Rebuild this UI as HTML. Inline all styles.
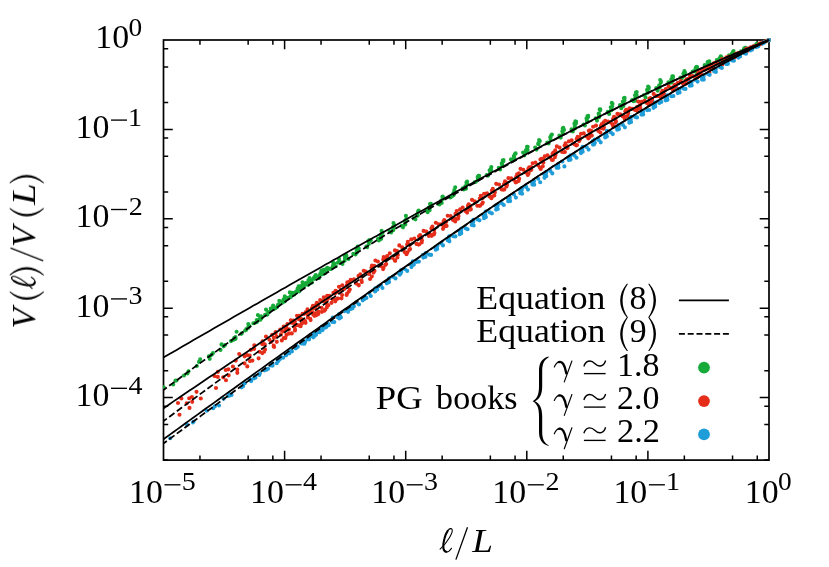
<!DOCTYPE html>
<html><head><meta charset="utf-8"><title>V(l)/V(L) vs l/L</title>
<style>
html,body{margin:0;padding:0;background:#fff;}
svg{display:block;font-family:"Liberation Serif",serif;}
</style></head><body>
<svg width="829" height="567" viewBox="0 0 829 567">
<rect width="829" height="567" fill="#fff"/>
<defs><clipPath id="c"><rect x="163.10" y="37.00" width="608.90" height="423.10"/></clipPath></defs>
<rect x="163.50" y="40.00" width="605.50" height="420.10" fill="none" stroke="#000" stroke-width="1.7"/>
<path d="M199.95 460.10L199.95 455.40M199.95 40.00L199.95 44.70M248.15 460.10L248.15 455.40M248.15 40.00L248.15 44.70M272.86 460.10L272.86 455.40M272.86 40.00L272.86 44.70M284.60 460.10L284.60 450.80M284.60 40.00L284.60 49.30M321.05 460.10L321.05 455.40M321.05 40.00L321.05 44.70M369.25 460.10L369.25 455.40M369.25 40.00L369.25 44.70M393.96 460.10L393.96 455.40M393.96 40.00L393.96 44.70M405.70 460.10L405.70 450.80M405.70 40.00L405.70 49.30M442.15 460.10L442.15 455.40M442.15 40.00L442.15 44.70M490.35 460.10L490.35 455.40M490.35 40.00L490.35 44.70M515.06 460.10L515.06 455.40M515.06 40.00L515.06 44.70M526.80 460.10L526.80 450.80M526.80 40.00L526.80 49.30M563.25 460.10L563.25 455.40M563.25 40.00L563.25 44.70M611.45 460.10L611.45 455.40M611.45 40.00L611.45 44.70M636.16 460.10L636.16 455.40M636.16 40.00L636.16 44.70M647.90 460.10L647.90 450.80M647.90 40.00L647.90 49.30M684.35 460.10L684.35 455.40M684.35 40.00L684.35 44.70M732.55 460.10L732.55 455.40M732.55 40.00L732.55 44.70M757.26 460.10L757.26 455.40M757.26 40.00L757.26 44.70M163.50 460.10L168.20 460.10M769.00 460.10L764.30 460.10M163.50 424.52L168.20 424.52M769.00 424.52L764.30 424.52M163.50 406.27L168.20 406.27M769.00 406.27L764.30 406.27M163.50 397.61L172.80 397.61M769.00 397.61L759.70 397.61M163.50 370.70L168.20 370.70M769.00 370.70L764.30 370.70M163.50 335.12L168.20 335.12M769.00 335.12L764.30 335.12M163.50 316.87L168.20 316.87M769.00 316.87L764.30 316.87M163.50 308.21L172.80 308.21M769.00 308.21L759.70 308.21M163.50 281.29L168.20 281.29M769.00 281.29L764.30 281.29M163.50 245.72L168.20 245.72M769.00 245.72L764.30 245.72M163.50 227.47L168.20 227.47M769.00 227.47L764.30 227.47M163.50 218.81L172.80 218.81M769.00 218.81L759.70 218.81M163.50 191.89L168.20 191.89M769.00 191.89L764.30 191.89M163.50 156.32L168.20 156.32M769.00 156.32L764.30 156.32M163.50 138.07L168.20 138.07M769.00 138.07L764.30 138.07M163.50 129.40L172.80 129.40M769.00 129.40L759.70 129.40M163.50 102.49L168.20 102.49M769.00 102.49L764.30 102.49M163.50 66.91L168.20 66.91M769.00 66.91L764.30 66.91M163.50 48.66L168.20 48.66M769.00 48.66L764.30 48.66" stroke="#000" stroke-width="1.5" fill="none"/>
<g clip-path="url(#c)" fill="none" stroke-linecap="round" stroke-width="4.15">
<path stroke="#16ab39" d="M175.5 380.6h0M196.8 366.0h0M211.9 354.4h0M223.6 346.3h0M233.2 340.0h0M241.3 333.8h0M248.4 327.4h0M254.6 323.0h0M260.1 318.2h0M265.1 314.9h0M273.9 308.9h0M277.8 305.6h0M284.8 301.3h0M291.0 295.8h0M296.6 291.4h0M301.6 288.2h0M308.3 283.4h0M314.3 278.8h0M321.3 274.4h0M326.0 271.4h0M333.0 265.5h0M344.7 260.7h0M356.9 252.6h0M368.8 243.9h0M381.2 238.8h0M393.4 230.1h0M405.3 224.4h0M417.7 215.6h0M429.6 210.2h0M441.7 203.0h0M453.8 193.8h0M466.0 188.7h0M478.1 179.3h0M490.2 172.5h0M502.3 165.9h0M514.4 159.6h0M526.5 151.6h0M538.6 144.3h0M550.7 139.9h0M562.8 133.3h0M575.0 128.5h0M587.1 122.0h0M599.2 117.1h0M611.3 110.2h0M623.4 105.9h0M635.5 100.6h0M647.6 91.7h0M659.7 87.5h0M671.8 82.3h0M684.0 76.1h0M696.1 71.8h0M708.2 64.5h0M720.3 59.7h0M732.4 54.7h0M744.5 49.3h0M756.6 44.8h0M768.7 40.1h0M769.0 40.0h0M187.5 373.4h0M208.8 356.4h0M223.9 345.9h0M235.6 338.8h0M245.2 330.5h0M253.3 323.2h0M260.4 319.7h0M266.6 314.3h0M272.1 309.2h0M277.1 306.9h0M285.9 297.5h0M289.8 297.3h0M296.8 291.5h0M303.0 287.9h0M308.6 282.3h0M313.6 278.2h0M320.3 275.0h0M326.3 270.7h0M333.3 266.4h0M338.0 262.6h0M345.0 258.5h0M356.7 251.3h0M368.9 242.5h0M380.8 236.3h0M393.2 229.4h0M405.4 222.5h0M417.3 215.2h0M429.7 208.7h0M441.6 200.2h0M453.7 192.8h0M465.8 187.0h0M478.0 179.2h0M490.1 170.1h0M502.2 164.8h0M514.3 157.7h0M526.4 150.1h0M538.5 144.2h0M550.6 139.8h0M562.7 133.1h0M574.8 126.7h0M587.0 120.5h0M599.1 115.5h0M611.2 109.1h0M623.3 102.8h0M635.4 97.8h0M647.5 92.7h0M659.6 85.6h0M671.7 79.4h0M683.8 75.1h0M696.0 69.0h0M708.1 63.6h0M720.2 59.1h0M732.3 53.6h0M744.4 49.3h0M756.5 44.8h0M768.6 40.1h0M769.0 40.0h0M163.7 387.2h0M200.2 359.2h0M221.5 344.4h0M236.6 331.7h0M248.3 324.1h0M257.9 315.1h0M266.0 309.6h0M273.1 305.6h0M279.3 300.7h0M284.8 296.3h0M289.8 292.4h0M298.6 286.2h0M302.5 282.3h0M309.5 278.0h0M315.7 275.1h0M321.3 270.7h0M326.3 268.7h0M333.0 262.3h0M339.0 258.9h0M346.0 254.9h0M357.7 246.6h0M369.4 240.0h0M381.6 230.9h0M393.5 223.0h0M405.9 215.8h0M418.1 211.4h0M430.0 204.0h0M442.4 196.7h0M454.3 190.1h0M466.4 182.5h0M478.5 175.8h0M490.7 169.2h0M502.8 160.3h0M514.9 154.1h0M527.0 146.8h0M539.1 140.0h0M551.2 135.2h0M563.3 127.9h0M575.4 121.2h0M587.5 116.1h0M599.7 109.4h0M611.8 102.9h0M623.9 98.0h0M636.0 92.2h0M648.1 86.6h0M660.2 80.1h0M672.3 76.3h0M684.4 71.0h0M696.5 66.9h0M708.7 61.6h0M720.8 56.3h0M732.9 52.0h0M745.0 47.8h0M757.1 43.5h0M769.0 40.0h0M173.2 384.5h0M209.7 358.8h0M231.0 341.1h0M246.1 329.9h0M257.8 320.4h0M267.4 314.6h0M275.5 308.2h0M282.6 302.6h0M288.8 297.6h0M294.3 294.5h0M299.3 291.3h0M308.1 284.8h0M312.0 282.5h0M319.0 278.1h0M325.2 273.1h0M330.8 269.0h0M335.8 266.2h0M342.5 264.0h0M348.5 259.0h0M355.5 254.5h0M367.2 247.2h0M378.9 240.4h0M391.1 232.5h0M403.0 227.3h0M415.4 219.3h0M427.6 212.2h0M439.5 204.4h0M451.9 196.5h0M463.8 189.4h0M475.9 181.7h0M488.0 175.6h0M500.2 169.5h0M512.3 160.9h0M524.4 155.3h0M536.5 149.6h0M548.6 143.5h0M560.7 137.6h0M572.8 131.4h0M584.9 125.5h0M597.0 120.6h0M609.2 113.9h0M621.3 108.2h0M633.4 101.2h0M645.5 97.4h0M657.6 90.6h0M669.7 82.9h0M681.8 78.2h0M693.9 71.3h0M706.0 67.7h0M718.2 61.1h0M730.3 57.0h0M742.4 51.9h0M754.5 46.2h0M766.6 41.0h0M769.0 40.0h0M176.5 380.5h0M213.0 353.1h0M234.3 337.7h0M249.4 326.0h0M261.1 316.3h0M270.7 308.5h0M278.8 304.2h0M285.9 297.6h0M292.1 292.8h0M297.6 288.6h0M302.6 284.7h0M311.4 280.3h0M315.3 277.1h0M322.3 274.2h0M328.5 268.6h0M334.1 265.1h0M339.1 260.7h0M345.8 255.6h0M358.8 248.6h0M370.5 240.1h0M382.2 233.2h0M394.4 225.5h0M406.3 219.0h0M418.7 210.6h0M430.9 203.9h0M442.8 196.6h0M455.2 187.3h0M467.1 181.5h0M479.2 175.8h0M491.3 167.1h0M503.5 160.0h0M515.6 153.4h0M527.7 146.8h0M539.8 141.1h0M551.9 134.6h0M564.0 130.0h0M576.1 121.5h0M588.2 115.8h0M600.3 109.3h0M612.5 103.7h0M624.6 97.9h0M636.7 92.0h0M648.8 87.4h0M660.9 81.2h0M673.0 76.3h0M685.1 72.6h0M697.2 67.1h0M709.3 61.3h0M721.5 57.4h0M733.6 52.8h0M745.7 47.8h0M757.8 43.7h0M769.0 40.0h0M184.0 375.5h0M220.5 349.9h0M241.8 333.3h0M256.9 322.1h0M268.6 312.1h0M278.2 304.6h0M286.3 298.5h0M293.4 293.1h0M299.6 290.0h0M305.1 284.8h0M310.1 283.2h0M318.9 276.3h0M322.8 272.6h0M329.8 268.8h0M341.6 262.6h0M353.3 253.8h0M366.3 246.5h0M378.0 238.9h0M389.7 231.2h0M401.9 225.9h0M413.8 218.4h0M426.2 210.0h0M438.4 204.0h0M450.3 197.4h0M462.7 188.4h0M474.6 182.2h0M486.7 175.1h0M498.8 167.7h0M511.0 159.4h0M523.1 152.5h0M535.2 147.6h0M547.3 142.6h0M559.4 135.6h0M571.5 129.3h0M583.6 124.5h0M595.7 118.3h0M607.8 111.7h0M620.0 105.0h0M632.1 100.1h0M644.2 95.0h0M656.3 88.1h0M668.4 82.2h0M680.5 77.5h0M692.6 71.5h0M704.7 65.2h0M716.8 60.1h0M729.0 55.4h0M741.1 51.3h0M753.2 46.5h0M765.3 41.5h0M769.0 40.0h0M188.5 371.2h0M225.0 345.0h0M246.3 329.1h0M261.4 318.3h0M273.1 308.2h0M282.7 301.2h0M290.8 297.0h0M297.9 289.6h0M304.1 285.9h0M309.6 279.5h0M314.6 277.6h0M323.4 269.9h0M327.3 267.7h0M334.3 263.6h0M346.1 256.1h0M357.8 248.2h0M370.8 240.3h0M382.5 232.7h0M394.2 225.0h0M406.4 219.4h0M418.3 211.3h0M430.7 206.2h0M442.9 198.8h0M454.8 191.4h0M467.2 183.9h0M479.1 176.2h0M491.2 170.2h0M503.3 161.3h0M515.5 153.8h0M527.6 149.9h0M539.7 140.7h0M551.8 134.8h0M563.9 129.5h0M576.0 123.3h0M588.1 117.1h0M600.2 110.3h0M612.3 106.2h0M624.5 100.2h0M636.6 95.1h0M648.7 88.7h0M660.8 82.6h0M672.9 77.7h0M685.0 72.6h0M697.1 67.3h0M709.2 62.3h0M721.3 57.5h0M733.5 51.0h0M745.6 48.6h0M757.7 43.8h0M769.0 40.0h0M199.0 361.9h0M235.5 337.0h0M256.8 320.0h0M271.9 308.2h0M283.6 299.4h0M293.2 293.4h0M301.3 285.9h0M308.4 280.3h0M314.6 276.8h0M320.1 274.1h0M325.1 270.4h0M333.9 263.6h0M344.8 256.3h0M356.6 249.2h0M368.3 241.0h0M381.3 234.8h0M393.0 227.1h0M404.7 221.0h0M416.9 214.7h0M428.8 207.5h0M441.2 200.5h0M453.4 193.2h0M465.3 186.2h0M477.7 176.9h0M489.6 170.2h0M501.7 163.3h0M513.8 156.0h0M526.0 150.1h0M538.1 144.0h0M550.2 137.3h0M562.3 131.3h0M574.4 123.5h0M586.5 118.4h0M598.6 113.6h0M610.7 107.2h0M622.8 101.5h0M635.0 95.2h0M647.1 89.9h0M659.2 85.4h0M671.3 79.3h0M683.4 73.9h0M695.5 69.0h0M707.6 62.0h0M719.7 58.0h0M731.8 53.7h0M744.0 48.8h0M756.1 44.6h0M768.2 40.3h0M769.0 40.0h0M211.5 354.9h0M248.0 327.9h0M269.3 311.9h0M284.4 300.7h0M296.1 291.6h0M305.7 283.0h0M313.8 278.0h0M320.9 273.0h0M327.1 269.1h0M332.6 267.1h0M346.4 255.9h0M357.3 248.4h0M369.1 240.9h0M380.8 234.8h0M393.8 227.4h0M405.5 221.0h0M417.2 214.4h0M429.4 208.7h0M441.3 200.6h0M453.7 195.1h0M465.9 185.8h0M477.8 177.7h0M490.2 170.4h0M502.1 164.3h0M514.2 157.5h0M526.3 150.6h0M538.5 143.0h0M550.6 137.1h0M562.7 128.4h0M574.8 125.4h0M586.9 120.0h0M599.0 113.9h0M611.1 109.8h0M623.2 102.4h0M635.3 97.7h0M647.5 90.1h0M659.6 85.9h0M671.7 80.4h0M683.8 73.4h0M695.9 67.6h0M708.0 63.4h0M720.1 58.1h0M732.2 54.5h0M744.3 48.5h0M756.5 44.4h0M768.6 40.2h0M769.0 40.0h0"/>
<path stroke="#e52d1a" d="M178.0 403.0h0M214.5 376.0h0M235.8 360.6h0M250.9 349.8h0M262.6 341.4h0M272.2 334.7h0M280.3 329.5h0M287.4 324.0h0M293.6 320.5h0M299.1 315.7h0M304.1 313.8h0M312.9 305.9h0M316.8 302.8h0M323.8 297.2h0M335.6 290.7h0M347.3 282.4h0M360.3 274.2h0M372.0 265.5h0M383.7 257.1h0M395.9 250.8h0M407.8 241.7h0M420.2 235.1h0M432.4 226.5h0M444.3 220.1h0M456.7 211.0h0M468.6 204.4h0M480.7 195.7h0M492.8 188.8h0M505.0 181.4h0M517.1 174.4h0M529.2 167.3h0M541.3 158.7h0M553.4 152.5h0M565.5 143.3h0M577.6 136.9h0M589.7 130.3h0M601.8 124.0h0M614.0 116.8h0M626.1 109.7h0M638.2 101.5h0M650.3 98.1h0M662.4 90.7h0M674.5 85.1h0M686.6 79.4h0M698.7 72.1h0M710.8 65.2h0M723.0 60.6h0M735.1 54.2h0M747.2 49.5h0M759.3 43.9h0M769.0 40.0h0M179.5 414.7h0M216.0 388.0h0M237.3 372.8h0M252.4 360.6h0M264.1 351.7h0M273.7 345.6h0M281.8 340.4h0M288.9 333.6h0M295.1 329.6h0M300.6 326.2h0M305.6 322.8h0M314.4 315.8h0M318.3 314.1h0M325.3 309.5h0M331.5 302.8h0M337.1 298.9h0M342.1 295.0h0M348.8 291.6h0M361.8 282.1h0M373.5 272.6h0M385.2 264.9h0M397.4 257.4h0M409.3 249.8h0M421.7 242.4h0M433.9 234.5h0M445.8 225.5h0M458.2 218.6h0M470.1 209.7h0M482.2 203.7h0M494.3 195.5h0M506.5 186.5h0M518.6 181.0h0M530.7 170.2h0M542.8 166.3h0M554.9 157.2h0M567.0 148.1h0M579.1 141.1h0M591.2 135.4h0M603.3 128.7h0M615.5 122.6h0M627.6 116.1h0M639.7 107.8h0M651.8 103.5h0M663.9 94.7h0M676.0 87.4h0M688.1 81.1h0M700.2 74.6h0M712.3 67.7h0M724.5 61.5h0M736.6 56.2h0M748.7 50.2h0M760.8 43.6h0M769.0 40.0h0M181.4 398.5h0M217.9 371.8h0M239.2 354.0h0M254.3 345.3h0M266.0 336.6h0M275.6 332.0h0M283.7 326.6h0M290.8 320.2h0M297.0 315.8h0M302.5 313.9h0M307.5 309.2h0M316.3 304.3h0M320.2 300.1h0M327.2 295.9h0M333.4 292.9h0M339.0 286.7h0M350.7 279.8h0M363.7 270.7h0M375.4 260.5h0M387.1 256.1h0M399.3 245.4h0M411.2 239.4h0M423.6 230.9h0M435.8 222.7h0M447.7 215.7h0M460.1 209.4h0M472.0 199.8h0M484.1 193.8h0M496.2 183.8h0M508.4 178.1h0M520.5 168.8h0M532.6 163.2h0M544.7 156.4h0M556.8 146.4h0M568.9 141.3h0M581.0 133.7h0M593.1 126.7h0M605.2 120.8h0M617.4 113.9h0M629.5 108.2h0M641.6 101.8h0M653.7 93.9h0M665.8 89.1h0M677.9 82.9h0M690.0 75.8h0M702.1 69.4h0M714.2 63.1h0M726.4 57.4h0M738.5 53.1h0M750.6 47.3h0M762.7 42.5h0M769.0 40.0h0M186.7 403.3h0M223.2 377.3h0M244.5 363.3h0M259.6 351.7h0M271.3 341.8h0M280.9 334.4h0M289.0 329.3h0M296.1 324.9h0M302.3 319.6h0M307.8 314.5h0M312.8 312.8h0M321.6 307.8h0M325.5 302.2h0M332.5 299.0h0M344.3 289.0h0M356.0 283.3h0M369.0 273.9h0M380.7 265.9h0M392.4 257.8h0M404.6 252.1h0M416.5 243.9h0M428.9 235.9h0M441.1 224.4h0M453.0 219.9h0M465.4 210.9h0M477.3 205.7h0M489.4 196.5h0M501.5 189.3h0M513.7 179.7h0M525.8 172.4h0M537.9 165.1h0M550.0 157.4h0M562.1 152.0h0M574.2 144.1h0M586.3 136.2h0M598.4 130.9h0M610.5 122.3h0M622.7 116.2h0M634.8 109.8h0M646.9 103.0h0M659.0 95.9h0M671.1 87.8h0M683.2 83.9h0M695.3 77.9h0M707.4 68.0h0M719.5 64.2h0M731.7 59.0h0M743.8 51.4h0M755.9 46.1h0M768.0 40.5h0M769.0 40.0h0M189.5 407.9h0M226.0 380.2h0M247.3 366.4h0M262.4 353.1h0M274.1 346.9h0M283.7 338.1h0M291.8 333.4h0M298.9 325.4h0M305.1 321.0h0M310.6 320.1h0M315.6 313.4h0M324.4 310.7h0M328.3 305.2h0M335.3 301.3h0M341.5 298.3h0M347.1 293.6h0M358.8 285.3h0M371.8 276.5h0M383.5 267.9h0M395.2 260.8h0M407.4 252.4h0M419.3 244.2h0M431.7 235.8h0M443.9 226.8h0M455.8 218.7h0M468.2 208.7h0M480.1 205.7h0M492.2 196.6h0M504.3 189.4h0M516.5 182.1h0M528.6 173.4h0M540.7 169.0h0M552.8 159.9h0M564.9 152.0h0M577.0 145.1h0M589.1 137.4h0M601.2 127.9h0M613.3 126.6h0M625.5 116.6h0M637.6 108.9h0M649.7 101.3h0M661.8 95.1h0M673.9 88.1h0M686.0 80.8h0M698.1 74.1h0M710.2 69.3h0M722.3 64.5h0M734.5 57.5h0M746.6 51.7h0M758.7 45.3h0M769.0 40.0h0M189.2 398.2h0M225.7 370.0h0M247.0 355.1h0M262.1 344.1h0M273.8 337.9h0M283.4 331.2h0M291.5 322.7h0M298.6 319.1h0M304.8 313.5h0M310.3 311.8h0M315.3 307.8h0M324.1 300.3h0M328.0 298.5h0M335.0 293.6h0M341.2 289.7h0M346.8 285.3h0M358.5 275.9h0M371.5 267.7h0M383.2 259.5h0M394.9 250.3h0M407.1 244.6h0M419.0 236.3h0M431.4 228.4h0M443.6 221.3h0M455.5 213.9h0M467.9 205.7h0M479.8 198.5h0M491.9 190.5h0M504.0 184.1h0M516.2 176.7h0M528.3 168.9h0M540.4 159.6h0M552.5 153.8h0M564.6 145.6h0M576.7 138.9h0M588.8 130.8h0M600.9 125.9h0M613.0 119.0h0M625.2 111.2h0M637.3 106.7h0M649.4 98.6h0M661.5 92.5h0M673.6 87.0h0M685.7 80.6h0M697.8 74.0h0M709.9 67.8h0M722.0 59.1h0M734.2 55.6h0M746.3 48.8h0M758.4 44.8h0M769.0 40.0h0M191.9 397.0h0M228.4 369.3h0M249.7 355.5h0M264.8 344.4h0M276.5 336.6h0M286.1 329.0h0M294.2 323.5h0M301.3 319.0h0M307.5 313.3h0M313.0 308.7h0M318.0 305.1h0M326.8 300.4h0M337.7 291.8h0M349.5 281.5h0M361.2 275.8h0M374.2 265.9h0M385.9 259.2h0M397.6 251.4h0M409.8 244.8h0M421.7 237.3h0M434.1 230.0h0M446.3 221.8h0M458.2 215.0h0M470.6 205.7h0M482.5 198.1h0M494.6 191.7h0M506.7 182.5h0M518.9 173.2h0M531.0 167.1h0M543.1 159.5h0M555.2 150.4h0M567.3 146.2h0M579.4 137.0h0M591.5 131.1h0M603.6 122.4h0M615.7 118.0h0M627.9 111.2h0M640.0 105.1h0M652.1 99.1h0M664.2 91.1h0M676.3 84.3h0M688.4 78.9h0M700.5 72.2h0M712.6 67.8h0M724.7 59.9h0M736.9 53.5h0M749.0 48.4h0M761.1 43.0h0M769.0 40.0h0M192.2 401.8h0M228.7 375.3h0M250.0 361.1h0M265.1 349.5h0M276.8 341.8h0M286.4 334.9h0M294.5 327.0h0M301.6 323.7h0M307.8 317.4h0M313.3 314.7h0M318.3 311.5h0M327.1 304.6h0M338.0 298.5h0M349.8 289.6h0M361.5 280.3h0M374.5 270.9h0M386.2 264.1h0M397.9 255.0h0M410.1 249.0h0M422.0 240.6h0M434.4 233.1h0M446.6 225.9h0M458.5 216.1h0M470.9 209.2h0M482.8 202.6h0M494.9 192.2h0M507.0 185.1h0M519.2 178.8h0M531.3 169.7h0M543.4 162.5h0M555.5 154.9h0M567.6 148.0h0M579.7 140.0h0M591.8 135.6h0M603.9 127.6h0M616.0 121.4h0M628.2 113.2h0M640.3 107.8h0M652.4 101.5h0M664.5 94.9h0M676.6 89.4h0M688.7 80.9h0M700.8 73.6h0M712.9 67.8h0M725.0 62.0h0M737.2 53.7h0M749.3 49.7h0M761.4 43.6h0M769.0 40.0h0M196.5 391.8h0M217.8 376.9h0M232.9 366.5h0M244.6 356.3h0M254.2 348.8h0M262.3 343.8h0M269.4 339.7h0M275.6 333.3h0M281.1 330.0h0M286.1 326.9h0M294.9 321.6h0M298.8 317.4h0M305.8 312.0h0M312.0 308.1h0M317.6 303.2h0M322.6 301.1h0M329.3 295.9h0M342.3 285.2h0M354.0 279.3h0M365.7 271.5h0M377.9 261.5h0M389.8 253.3h0M402.2 247.4h0M414.4 238.5h0M426.3 231.5h0M438.7 224.2h0M450.6 216.0h0M462.7 207.5h0M474.8 201.2h0M487.0 193.2h0M499.1 184.5h0M511.2 178.2h0M523.3 169.7h0M535.4 162.6h0M547.5 155.2h0M559.6 147.6h0M571.7 140.3h0M583.8 133.4h0M596.0 125.6h0M608.1 121.5h0M620.2 114.4h0M632.3 108.7h0M644.4 100.9h0M656.5 95.9h0M668.6 86.5h0M680.7 81.0h0M692.8 76.1h0M705.0 69.4h0M717.1 62.2h0M729.2 56.5h0M741.3 52.5h0M753.4 46.2h0M765.5 41.4h0M769.0 40.0h0M200.8 398.5h0M237.3 369.6h0M258.6 358.3h0M273.7 346.6h0M285.4 338.1h0M295.0 330.5h0M303.1 322.7h0M310.2 318.8h0M316.4 315.1h0M321.9 311.8h0M326.9 307.2h0M335.7 299.5h0M346.6 294.9h0M358.4 284.8h0M370.1 279.0h0M383.1 269.1h0M394.8 260.4h0M406.5 254.2h0M418.7 244.6h0M430.6 234.6h0M443.0 228.8h0M455.2 221.4h0M467.1 212.6h0M479.5 205.8h0M491.4 198.2h0M503.5 189.7h0M515.6 182.3h0M527.8 174.9h0M539.9 167.6h0M552.0 160.0h0M564.1 152.1h0M576.2 145.3h0M588.3 138.3h0M600.4 132.5h0M612.5 124.6h0M624.6 118.5h0M636.8 110.4h0M648.9 105.1h0M661.0 97.9h0M673.1 90.3h0M685.2 84.0h0M697.3 77.5h0M709.4 72.3h0M721.5 63.6h0M733.6 58.2h0M745.8 51.4h0M757.9 45.2h0M769.0 40.0h0"/>
<path stroke="#1f9dd9" d="M193.5 421.7h0M214.8 406.4h0M229.9 395.5h0M241.6 387.3h0M251.2 381.1h0M259.3 375.0h0M266.4 369.7h0M272.6 365.6h0M278.1 361.2h0M283.1 357.7h0M291.9 351.4h0M295.8 348.3h0M302.8 343.5h0M309.0 338.9h0M314.6 335.9h0M319.6 332.2h0M326.3 326.9h0M332.3 322.0h0M339.3 318.4h0M351.0 309.0h0M362.7 300.3h0M374.9 290.5h0M386.8 283.3h0M399.2 273.9h0M411.4 267.1h0M423.3 257.6h0M435.7 249.7h0M447.6 240.2h0M459.7 234.2h0M471.8 225.0h0M484.0 218.2h0M496.1 209.6h0M508.2 201.2h0M520.3 193.2h0M532.4 184.5h0M544.5 177.8h0M556.6 167.7h0M568.7 159.7h0M580.8 152.8h0M593.0 144.6h0M605.1 137.3h0M617.2 129.7h0M629.3 122.7h0M641.4 114.6h0M653.5 107.8h0M665.6 100.3h0M677.7 93.1h0M689.8 85.7h0M702.0 79.6h0M714.1 71.0h0M726.2 64.0h0M738.3 57.4h0M750.4 50.4h0M762.5 43.6h0M769.0 40.0h0M170.2 438.2h0M206.7 410.7h0M228.0 396.0h0M243.1 386.2h0M254.8 376.0h0M264.4 370.3h0M272.5 363.9h0M279.6 359.4h0M285.8 354.9h0M291.3 351.1h0M296.3 346.8h0M305.1 341.9h0M309.0 339.4h0M316.0 333.3h0M322.2 329.5h0M327.8 324.5h0M339.5 316.5h0M352.5 306.2h0M364.2 299.2h0M375.9 288.9h0M388.1 281.1h0M400.0 273.4h0M412.4 264.7h0M424.6 255.6h0M436.5 248.7h0M448.9 239.6h0M460.8 232.4h0M472.9 224.6h0M485.0 215.1h0M497.2 208.0h0M509.3 200.0h0M521.4 192.2h0M533.5 183.2h0M545.6 175.7h0M557.7 166.6h0M569.8 159.0h0M581.9 151.3h0M594.0 144.4h0M606.2 134.8h0M618.3 128.9h0M630.4 120.7h0M642.5 113.6h0M654.6 106.6h0M666.7 98.4h0M678.8 90.6h0M690.9 85.1h0M703.0 78.7h0M715.2 70.6h0M727.3 63.8h0M739.4 56.4h0M751.5 49.7h0M763.6 42.8h0M769.0 40.0h0M187.0 424.7h0M223.5 398.8h0M244.8 383.3h0M259.9 373.3h0M271.6 363.8h0M281.2 357.4h0M289.3 351.3h0M296.4 345.3h0M302.6 341.1h0M308.1 338.2h0M313.1 333.5h0M321.9 326.8h0M325.8 324.7h0M332.8 317.5h0M339.0 314.3h0M344.6 311.1h0M356.3 302.4h0M369.3 293.6h0M381.0 285.3h0M392.7 276.7h0M404.9 269.0h0M416.8 261.8h0M429.2 254.6h0M441.4 243.4h0M453.3 236.2h0M465.7 228.3h0M477.6 219.5h0M489.7 212.3h0M501.8 203.3h0M514.0 194.5h0M526.1 186.9h0M538.2 178.7h0M550.3 170.9h0M562.4 161.5h0M574.5 155.4h0M586.6 147.0h0M598.7 139.9h0M610.8 132.3h0M623.0 125.0h0M635.1 116.8h0M647.2 110.1h0M659.3 102.9h0M671.4 96.2h0M683.5 88.6h0M695.6 79.9h0M707.7 73.8h0M719.8 66.9h0M732.0 60.3h0M744.1 53.2h0M756.2 47.1h0M768.3 40.4h0M769.0 40.0h0M193.0 422.4h0M229.5 394.4h0M250.8 379.6h0M265.9 369.4h0M277.6 360.4h0M287.2 353.5h0M295.3 348.0h0M302.4 342.4h0M308.6 338.1h0M314.1 333.5h0M319.1 329.5h0M327.9 324.0h0M331.8 321.1h0M338.8 316.2h0M350.6 307.2h0M362.3 298.6h0M375.3 288.4h0M387.0 281.6h0M398.7 272.5h0M410.9 264.5h0M422.8 255.1h0M435.2 247.6h0M447.4 238.9h0M459.3 231.0h0M471.7 221.6h0M483.6 215.9h0M495.7 205.6h0M507.8 197.7h0M520.0 189.6h0M532.1 182.6h0M544.2 174.0h0M556.3 166.1h0M568.4 157.2h0M580.5 149.6h0M592.6 141.3h0M604.7 134.2h0M616.8 127.4h0M629.0 119.4h0M641.1 112.1h0M653.2 105.1h0M665.3 97.4h0M677.4 89.9h0M689.5 82.9h0M701.6 77.3h0M713.7 70.2h0M725.8 62.7h0M738.0 55.5h0M750.1 49.7h0M762.2 43.5h0M769.0 40.0h0M213.2 408.2h0M249.7 380.2h0M271.0 365.4h0M286.1 355.3h0M297.8 346.8h0M307.4 339.1h0M315.5 334.2h0M322.6 330.1h0M328.8 325.2h0M334.3 322.1h0M348.1 311.8h0M359.0 304.4h0M370.8 296.0h0M382.5 288.0h0M395.5 278.4h0M407.2 270.9h0M418.9 261.6h0M431.1 254.9h0M443.0 245.4h0M455.4 236.4h0M467.6 229.2h0M479.5 220.3h0M491.9 213.3h0M503.8 205.0h0M515.9 197.6h0M528.0 189.6h0M540.2 182.2h0M552.3 173.4h0M564.4 166.4h0M576.5 157.7h0M588.6 149.6h0M600.7 142.3h0M612.8 134.1h0M624.9 127.3h0M637.0 117.4h0M649.2 110.0h0M661.3 101.9h0M673.4 96.0h0M685.5 88.9h0M697.6 81.6h0M709.7 74.8h0M721.8 67.9h0M733.9 60.7h0M746.0 53.7h0M758.2 46.3h0M769.0 40.0h0M219.0 405.5h0M255.5 377.7h0M276.8 363.2h0M291.9 351.3h0M303.6 343.6h0M313.2 337.3h0M321.3 330.0h0M328.4 325.1h0M340.1 315.8h0M353.9 306.2h0M364.8 297.7h0M376.6 289.2h0M388.3 281.2h0M401.3 272.0h0M413.0 263.0h0M424.7 254.3h0M436.9 246.7h0M448.8 238.7h0M461.2 230.6h0M473.4 221.6h0M485.3 214.8h0M497.7 205.6h0M509.6 198.4h0M521.7 190.0h0M533.8 181.7h0M546.0 173.4h0M558.1 165.6h0M570.2 156.5h0M582.3 148.9h0M594.4 140.4h0M606.5 133.8h0M618.6 126.2h0M630.7 119.4h0M642.8 110.7h0M655.0 104.0h0M667.1 97.1h0M679.2 89.2h0M691.3 83.4h0M703.4 77.3h0M715.5 70.1h0M727.6 63.0h0M739.7 55.7h0M751.8 49.3h0M764.0 42.6h0M769.0 40.0h0M231.5 394.9h0M268.0 368.8h0M289.3 353.3h0M304.4 343.7h0M316.1 334.7h0M325.7 327.4h0M340.9 317.4h0M352.6 308.2h0M366.4 297.9h0M377.3 289.6h0M389.1 282.1h0M400.8 273.3h0M413.8 264.6h0M425.5 256.8h0M437.2 249.0h0M449.4 241.3h0M461.3 233.2h0M473.7 225.5h0M485.9 217.1h0M497.8 209.0h0M510.2 201.1h0M522.1 193.7h0M534.2 184.7h0M546.3 176.2h0M558.5 167.7h0M570.6 159.6h0M582.7 151.7h0M594.8 142.9h0M606.9 136.5h0M619.0 129.1h0M631.1 122.0h0M643.2 114.4h0M655.3 106.6h0M667.5 99.8h0M679.6 92.4h0M691.7 85.5h0M703.8 79.6h0M715.9 71.9h0M728.0 63.8h0M740.1 56.4h0M752.2 49.6h0M764.3 42.6h0M769.0 40.0h0M243.5 384.1h0M280.0 357.8h0M301.3 343.5h0M316.4 333.2h0M328.1 323.7h0M337.7 317.3h0M345.8 310.4h0M352.9 307.0h0M364.6 298.6h0M378.4 286.5h0M389.3 278.3h0M401.1 270.1h0M412.8 261.4h0M425.8 253.0h0M437.5 245.7h0M449.2 236.3h0M461.4 228.6h0M473.3 219.9h0M485.7 211.5h0M497.9 204.5h0M509.8 197.3h0M522.2 187.8h0M534.1 181.1h0M546.2 171.9h0M558.3 164.4h0M570.5 155.2h0M582.6 146.7h0M594.7 139.5h0M606.8 130.9h0M618.9 124.8h0M631.0 116.9h0M643.1 111.4h0M655.2 102.6h0M667.3 95.4h0M679.5 88.7h0M691.6 81.8h0M703.7 75.8h0M715.8 69.1h0M727.9 61.0h0M740.0 55.7h0M752.1 48.8h0M764.2 42.5h0M769.0 40.0h0M254.0 378.3h0M290.5 351.6h0M311.8 336.1h0M326.9 325.0h0M338.6 317.4h0M348.2 310.1h0M363.4 299.3h0M375.1 291.4h0M388.9 281.5h0M399.8 274.7h0M411.6 265.2h0M423.3 256.5h0M436.3 249.0h0M448.0 240.1h0M459.7 231.6h0M471.9 224.6h0M483.8 216.3h0M496.2 206.5h0M508.4 200.1h0M520.3 192.5h0M532.7 184.6h0M544.6 176.1h0M556.7 167.7h0M568.8 160.1h0M581.0 153.1h0M593.1 144.4h0M605.2 137.4h0M617.3 128.5h0M629.4 121.2h0M641.5 114.0h0M653.6 106.5h0M665.7 99.1h0M677.8 90.5h0M690.0 85.2h0M702.1 78.1h0M714.2 71.4h0M726.3 63.5h0M738.4 57.6h0M750.5 50.2h0M762.6 43.4h0M769.0 40.0h0"/>
</g>
<g clip-path="url(#c)" fill="none" stroke="#000" stroke-width="1.75">
<path d="M161.5 358.6 L165.5 356.3 L169.5 354.0 L173.5 351.7 L177.5 349.4 L181.5 347.1 L185.5 344.7 L189.5 342.4 L193.5 340.1 L197.5 337.8 L201.5 335.5 L205.5 333.2 L209.5 330.9 L213.5 328.6 L217.5 326.3 L221.5 324.0 L225.5 321.7 L229.5 319.4 L233.5 317.1 L237.5 314.8 L241.5 312.5 L245.5 310.2 L249.5 307.9 L253.5 305.6 L257.5 303.4 L261.5 301.1 L265.5 298.8 L269.5 296.5 L273.5 294.2 L277.5 291.9 L281.5 289.6 L285.5 287.4 L289.5 285.1 L293.5 282.8 L297.5 280.5 L301.5 278.3 L305.5 276.0 L309.5 273.7 L313.5 271.4 L317.5 269.2 L321.5 266.9 L325.5 264.6 L329.5 262.4 L333.5 260.1 L337.5 257.9 L341.5 255.6 L345.5 253.3 L349.5 251.1 L353.5 248.8 L357.5 246.6 L361.5 244.3 L365.5 242.1 L369.5 239.9 L373.5 237.6 L377.5 235.4 L381.5 233.1 L385.5 230.9 L389.5 228.7 L393.5 226.4 L397.5 224.2 L401.5 222.0 L405.5 219.8 L409.5 217.5 L413.5 215.3 L417.5 213.1 L421.5 210.9 L425.5 208.7 L429.5 206.5 L433.5 204.3 L437.5 202.1 L441.5 199.9 L445.5 197.7 L449.5 195.5 L453.5 193.3 L457.5 191.1 L461.5 188.9 L465.5 186.8 L469.5 184.6 L473.5 182.4 L477.5 180.3 L481.5 178.1 L485.5 175.9 L489.5 173.8 L493.5 171.6 L497.5 169.5 L501.5 167.3 L505.5 165.2 L509.5 163.1 L513.5 160.9 L517.5 158.8 L521.5 156.7 L525.5 154.6 L529.5 152.5 L533.5 150.4 L537.5 148.3 L541.5 146.2 L545.5 144.1 L549.5 142.0 L553.5 139.9 L557.5 137.9 L561.5 135.8 L565.5 133.7 L569.5 131.7 L573.5 129.6 L577.5 127.6 L581.5 125.6 L585.5 123.5 L589.5 121.5 L593.5 119.5 L597.5 117.5 L601.5 115.5 L605.5 113.5 L609.5 111.5 L613.5 109.5 L617.5 107.5 L621.5 105.6 L625.5 103.6 L629.5 101.7 L633.5 99.7 L637.5 97.8 L641.5 95.9 L645.5 94.0 L649.5 92.1 L653.5 90.2 L657.5 88.3 L661.5 86.4 L665.5 84.6 L669.5 82.7 L673.5 80.8 L677.5 79.0 L681.5 77.2 L685.5 75.4 L689.5 73.6 L693.5 71.8 L697.5 70.0 L701.5 68.2 L705.5 66.4 L709.5 64.7 L713.5 62.9 L717.5 61.2 L721.5 59.5 L725.5 57.8 L729.5 56.1 L733.5 54.4 L737.5 52.7 L741.5 51.1 L745.5 49.4 L749.5 47.8 L753.5 46.2 L757.5 44.6 L761.5 43.0 L765.5 41.4 L769.0 40.0"/>
<path d="M161.5 409.6 L165.5 406.9 L169.5 404.2 L173.5 401.4 L177.5 398.7 L181.5 396.0 L185.5 393.3 L189.5 390.6 L193.5 387.9 L197.5 385.2 L201.5 382.5 L205.5 379.8 L209.5 377.1 L213.5 374.4 L217.5 371.7 L221.5 369.0 L225.5 366.3 L229.5 363.6 L233.5 360.9 L237.5 358.2 L241.5 355.5 L245.5 352.9 L249.5 350.2 L253.5 347.5 L257.5 344.8 L261.5 342.1 L265.5 339.5 L269.5 336.8 L273.5 334.1 L277.5 331.5 L281.5 328.8 L285.5 326.1 L289.5 323.5 L293.5 320.8 L297.5 318.1 L301.5 315.5 L305.5 312.8 L309.5 310.2 L313.5 307.5 L317.5 304.9 L321.5 302.2 L325.5 299.6 L329.5 297.0 L333.5 294.3 L337.5 291.7 L341.5 289.1 L345.5 286.4 L349.5 283.8 L353.5 281.2 L357.5 278.6 L361.5 275.9 L365.5 273.3 L369.5 270.7 L373.5 268.1 L377.5 265.5 L381.5 262.9 L385.5 260.3 L389.5 257.7 L393.5 255.1 L397.5 252.5 L401.5 249.9 L405.5 247.4 L409.5 244.8 L413.5 242.2 L417.5 239.6 L421.5 237.1 L425.5 234.5 L429.5 231.9 L433.5 229.4 L437.5 226.8 L441.5 224.3 L445.5 221.7 L449.5 219.2 L453.5 216.7 L457.5 214.1 L461.5 211.6 L465.5 209.1 L469.5 206.5 L473.5 204.0 L477.5 201.5 L481.5 199.0 L485.5 196.5 L489.5 194.0 L493.5 191.5 L497.5 189.1 L501.5 186.6 L505.5 184.1 L509.5 181.6 L513.5 179.2 L517.5 176.7 L521.5 174.3 L525.5 171.8 L529.5 169.4 L533.5 166.9 L537.5 164.5 L541.5 162.1 L545.5 159.7 L549.5 157.3 L553.5 154.9 L557.5 152.5 L561.5 150.1 L565.5 147.7 L569.5 145.4 L573.5 143.0 L577.5 140.6 L581.5 138.3 L585.5 136.0 L589.5 133.6 L593.5 131.3 L597.5 129.0 L601.5 126.7 L605.5 124.4 L609.5 122.1 L613.5 119.8 L617.5 117.5 L621.5 115.3 L625.5 113.0 L629.5 110.8 L633.5 108.6 L637.5 106.3 L641.5 104.1 L645.5 101.9 L649.5 99.7 L653.5 97.6 L657.5 95.4 L661.5 93.2 L665.5 91.1 L669.5 89.0 L673.5 86.8 L677.5 84.7 L681.5 82.6 L685.5 80.5 L689.5 78.5 L693.5 76.4 L697.5 74.4 L701.5 72.3 L705.5 70.3 L709.5 68.3 L713.5 66.3 L717.5 64.3 L721.5 62.3 L725.5 60.4 L729.5 58.4 L733.5 56.5 L737.5 54.6 L741.5 52.7 L745.5 50.8 L749.5 48.9 L753.5 47.1 L757.5 45.2 L761.5 43.4 L765.5 41.6 L769.0 40.0"/>
<path d="M161.5 440.7 L165.5 437.8 L169.5 434.9 L173.5 432.0 L177.5 429.1 L181.5 426.2 L185.5 423.3 L189.5 420.4 L193.5 417.5 L197.5 414.6 L201.5 411.7 L205.5 408.8 L209.5 406.0 L213.5 403.1 L217.5 400.2 L221.5 397.3 L225.5 394.4 L229.5 391.5 L233.5 388.7 L237.5 385.8 L241.5 382.9 L245.5 380.0 L249.5 377.2 L253.5 374.3 L257.5 371.4 L261.5 368.6 L265.5 365.7 L269.5 362.8 L273.5 360.0 L277.5 357.1 L281.5 354.2 L285.5 351.4 L289.5 348.5 L293.5 345.7 L297.5 342.8 L301.5 340.0 L305.5 337.1 L309.5 334.3 L313.5 331.4 L317.5 328.6 L321.5 325.7 L325.5 322.9 L329.5 320.0 L333.5 317.2 L337.5 314.4 L341.5 311.5 L345.5 308.7 L349.5 305.9 L353.5 303.0 L357.5 300.2 L361.5 297.4 L365.5 294.6 L369.5 291.8 L373.5 288.9 L377.5 286.1 L381.5 283.3 L385.5 280.5 L389.5 277.7 L393.5 274.9 L397.5 272.1 L401.5 269.3 L405.5 266.5 L409.5 263.7 L413.5 261.0 L417.5 258.2 L421.5 255.4 L425.5 252.6 L429.5 249.9 L433.5 247.1 L437.5 244.3 L441.5 241.6 L445.5 238.8 L449.5 236.0 L453.5 233.3 L457.5 230.5 L461.5 227.8 L465.5 225.1 L469.5 222.3 L473.5 219.6 L477.5 216.9 L481.5 214.2 L485.5 211.4 L489.5 208.7 L493.5 206.0 L497.5 203.3 L501.5 200.6 L505.5 197.9 L509.5 195.3 L513.5 192.6 L517.5 189.9 L521.5 187.2 L525.5 184.6 L529.5 181.9 L533.5 179.3 L537.5 176.6 L541.5 174.0 L545.5 171.4 L549.5 168.7 L553.5 166.1 L557.5 163.5 L561.5 160.9 L565.5 158.3 L569.5 155.7 L573.5 153.1 L577.5 150.6 L581.5 148.0 L585.5 145.4 L589.5 142.9 L593.5 140.3 L597.5 137.8 L601.5 135.3 L605.5 132.8 L609.5 130.3 L613.5 127.8 L617.5 125.3 L621.5 122.8 L625.5 120.3 L629.5 117.9 L633.5 115.4 L637.5 113.0 L641.5 110.6 L645.5 108.2 L649.5 105.8 L653.5 103.4 L657.5 101.0 L661.5 98.6 L665.5 96.3 L669.5 93.9 L673.5 91.6 L677.5 89.3 L681.5 87.0 L685.5 84.7 L689.5 82.4 L693.5 80.1 L697.5 77.9 L701.5 75.6 L705.5 73.4 L709.5 71.2 L713.5 69.0 L717.5 66.8 L721.5 64.6 L725.5 62.5 L729.5 60.3 L733.5 58.2 L737.5 56.1 L741.5 54.0 L745.5 51.9 L749.5 49.8 L753.5 47.8 L757.5 45.8 L761.5 43.7 L765.5 41.7 L769.0 40.0"/>
<path stroke-dasharray="6.6 2.9" d="M161.5 391.4 L165.5 388.5 L169.5 385.5 L173.5 382.6 L177.5 379.7 L181.5 376.7 L185.5 373.8 L189.5 370.9 L193.5 367.9 L197.5 365.0 L201.5 362.1 L205.5 359.2 L209.5 356.2 L213.5 353.3 L217.5 350.4 L221.5 347.5 L225.5 344.6 L229.5 341.7 L233.5 338.8 L237.5 335.9 L241.5 333.0 L245.5 330.1 L249.5 327.2 L253.5 324.3 L257.5 321.5 L261.5 318.6 L265.5 315.7 L269.5 312.9 L273.5 310.0 L277.5 307.2 L281.5 304.3 L285.5 301.5 L289.5 298.7 L293.5 295.9 L297.5 293.1 L301.5 290.3 L305.5 287.5 L309.5 284.8 L313.5 282.0 L317.5 279.3 L321.5 276.5 L325.5 273.8 L329.5 271.1 L333.5 268.4 L337.5 265.8 L341.5 263.1 L345.5 260.5 L349.5 257.8 L353.5 255.2 L357.5 252.6 L361.5 250.0 L365.5 247.5 L369.5 244.9 L373.5 242.4 L377.5 239.9 L381.5 237.4 L385.5 234.9 L389.5 232.5 L393.5 230.0 L397.5 227.6 L401.5 225.2 L405.5 222.8 L409.5 220.4 L413.5 218.0 L417.5 215.6 L421.5 213.3 L425.5 210.9 L429.5 208.6 L433.5 206.3 L437.5 203.9 L441.5 201.6 L445.5 199.3 L449.5 197.1 L453.5 194.8 L457.5 192.5 L461.5 190.3 L465.5 188.0 L469.5 185.8 L473.5 183.5 L477.5 181.3 L481.5 179.1 L485.5 176.9 L489.5 174.7 L493.5 172.5 L497.5 170.3 L501.5 168.1 L505.5 165.9 L509.5 163.7 L513.5 161.6 L517.5 159.4 L521.5 157.3 L525.5 155.1 L529.5 153.0 L533.5 150.8 L537.5 148.7 L541.5 146.6 L545.5 144.5 L549.5 142.4 L553.5 140.3 L557.5 138.2 L561.5 136.1 L565.5 134.0 L569.5 132.0 L573.5 129.9 L577.5 127.8 L581.5 125.8 L585.5 123.7 L589.5 121.7 L593.5 119.7 L597.5 117.7 L601.5 115.6 L605.5 113.6 L609.5 111.6 L613.5 109.7 L617.5 107.7 L621.5 105.7 L625.5 103.7 L629.5 101.8 L633.5 99.8 L637.5 97.9 L641.5 96.0 L645.5 94.1 L649.5 92.2 L653.5 90.3 L657.5 88.4 L661.5 86.5 L665.5 84.6 L669.5 82.8 L673.5 80.9 L677.5 79.1 L681.5 77.2 L685.5 75.4 L689.5 73.6 L693.5 71.8 L697.5 70.0 L701.5 68.2 L705.5 66.5 L709.5 64.7 L713.5 63.0 L717.5 61.2 L721.5 59.5 L725.5 57.8 L729.5 56.1 L733.5 54.4 L737.5 52.8 L741.5 51.1 L745.5 49.4 L749.5 47.8 L753.5 46.2 L757.5 44.6 L761.5 43.0 L765.5 41.4 L769.0 40.0"/>
<path stroke-dasharray="6.6 2.9" d="M161.5 422.5 L165.5 419.6 L169.5 416.7 L173.5 413.7 L177.5 410.8 L181.5 407.8 L185.5 404.9 L189.5 401.9 L193.5 399.0 L197.5 396.1 L201.5 393.1 L205.5 390.2 L209.5 387.2 L213.5 384.3 L217.5 381.4 L221.5 378.4 L225.5 375.5 L229.5 372.6 L233.5 369.7 L237.5 366.7 L241.5 363.8 L245.5 360.9 L249.5 358.0 L253.5 355.1 L257.5 352.1 L261.5 349.2 L265.5 346.3 L269.5 343.4 L273.5 340.5 L277.5 337.6 L281.5 334.7 L285.5 331.8 L289.5 329.0 L293.5 326.1 L297.5 323.2 L301.5 320.3 L305.5 317.5 L309.5 314.6 L313.5 311.8 L317.5 308.9 L321.5 306.1 L325.5 303.3 L329.5 300.4 L333.5 297.6 L337.5 294.8 L341.5 292.0 L345.5 289.2 L349.5 286.4 L353.5 283.7 L357.5 280.9 L361.5 278.2 L365.5 275.4 L369.5 272.7 L373.5 269.9 L377.5 267.2 L381.5 264.5 L385.5 261.8 L389.5 259.1 L393.5 256.4 L397.5 253.8 L401.5 251.1 L405.5 248.4 L409.5 245.8 L413.5 243.1 L417.5 240.5 L421.5 237.9 L425.5 235.3 L429.5 232.7 L433.5 230.1 L437.5 227.5 L441.5 224.9 L445.5 222.3 L449.5 219.7 L453.5 217.1 L457.5 214.6 L461.5 212.0 L465.5 209.5 L469.5 206.9 L473.5 204.4 L477.5 201.9 L481.5 199.3 L485.5 196.8 L489.5 194.3 L493.5 191.8 L497.5 189.3 L501.5 186.8 L505.5 184.3 L509.5 181.8 L513.5 179.4 L517.5 176.9 L521.5 174.4 L525.5 172.0 L529.5 169.5 L533.5 167.1 L537.5 164.6 L541.5 162.2 L545.5 159.8 L549.5 157.4 L553.5 155.0 L557.5 152.6 L561.5 150.2 L565.5 147.8 L569.5 145.4 L573.5 143.1 L577.5 140.7 L581.5 138.4 L585.5 136.0 L589.5 133.7 L593.5 131.4 L597.5 129.0 L601.5 126.7 L605.5 124.4 L609.5 122.1 L613.5 119.9 L617.5 117.6 L621.5 115.3 L625.5 113.1 L629.5 110.8 L633.5 108.6 L637.5 106.4 L641.5 104.2 L645.5 102.0 L649.5 99.8 L653.5 97.6 L657.5 95.4 L661.5 93.3 L665.5 91.1 L669.5 89.0 L673.5 86.9 L677.5 84.7 L681.5 82.6 L685.5 80.6 L689.5 78.5 L693.5 76.4 L697.5 74.4 L701.5 72.3 L705.5 70.3 L709.5 68.3 L713.5 66.3 L717.5 64.3 L721.5 62.3 L725.5 60.4 L729.5 58.4 L733.5 56.5 L737.5 54.6 L741.5 52.7 L745.5 50.8 L749.5 48.9 L753.5 47.1 L757.5 45.2 L761.5 43.4 L765.5 41.6 L769.0 40.0"/>
<path stroke-dasharray="6.6 2.9" d="M161.5 444.9 L165.5 442.0 L169.5 439.0 L173.5 436.1 L177.5 433.1 L181.5 430.2 L185.5 427.2 L189.5 424.3 L193.5 421.3 L197.5 418.4 L201.5 415.4 L205.5 412.5 L209.5 409.5 L213.5 406.6 L217.5 403.6 L221.5 400.7 L225.5 397.7 L229.5 394.8 L233.5 391.8 L237.5 388.9 L241.5 386.0 L245.5 383.0 L249.5 380.1 L253.5 377.1 L257.5 374.2 L261.5 371.2 L265.5 368.3 L269.5 365.4 L273.5 362.4 L277.5 359.5 L281.5 356.6 L285.5 353.6 L289.5 350.7 L293.5 347.8 L297.5 344.9 L301.5 341.9 L305.5 339.0 L309.5 336.1 L313.5 333.2 L317.5 330.3 L321.5 327.3 L325.5 324.4 L329.5 321.5 L333.5 318.6 L337.5 315.7 L341.5 312.8 L345.5 309.9 L349.5 307.0 L353.5 304.2 L357.5 301.3 L361.5 298.4 L365.5 295.5 L369.5 292.6 L373.5 289.8 L377.5 286.9 L381.5 284.1 L385.5 281.2 L389.5 278.4 L393.5 275.5 L397.5 272.7 L401.5 269.9 L405.5 267.0 L409.5 264.2 L413.5 261.4 L417.5 258.6 L421.5 255.8 L425.5 253.0 L429.5 250.2 L433.5 247.4 L437.5 244.6 L441.5 241.8 L445.5 239.0 L449.5 236.3 L453.5 233.5 L457.5 230.7 L461.5 228.0 L465.5 225.2 L469.5 222.5 L473.5 219.8 L477.5 217.0 L481.5 214.3 L485.5 211.6 L489.5 208.8 L493.5 206.1 L497.5 203.4 L501.5 200.7 L505.5 198.0 L509.5 195.3 L513.5 192.7 L517.5 190.0 L521.5 187.3 L525.5 184.6 L529.5 182.0 L533.5 179.3 L537.5 176.7 L541.5 174.0 L545.5 171.4 L549.5 168.8 L553.5 166.1 L557.5 163.5 L561.5 160.9 L565.5 158.3 L569.5 155.7 L573.5 153.2 L577.5 150.6 L581.5 148.0 L585.5 145.5 L589.5 142.9 L593.5 140.4 L597.5 137.8 L601.5 135.3 L605.5 132.8 L609.5 130.3 L613.5 127.8 L617.5 125.3 L621.5 122.8 L625.5 120.4 L629.5 117.9 L633.5 115.4 L637.5 113.0 L641.5 110.6 L645.5 108.2 L649.5 105.8 L653.5 103.4 L657.5 101.0 L661.5 98.6 L665.5 96.3 L669.5 93.9 L673.5 91.6 L677.5 89.3 L681.5 87.0 L685.5 84.7 L689.5 82.4 L693.5 80.1 L697.5 77.9 L701.5 75.6 L705.5 73.4 L709.5 71.2 L713.5 69.0 L717.5 66.8 L721.5 64.6 L725.5 62.5 L729.5 60.3 L733.5 58.2 L737.5 56.1 L741.5 54.0 L745.5 51.9 L749.5 49.8 L753.5 47.8 L757.5 45.8 L761.5 43.7 L765.5 41.7 L769.0 40.0"/>
</g>
<g fill="#000" style="will-change:transform">
<text transform="translate(95.32 48.40) scale(1.0263 1)" font-size="33.00">10</text>
<text transform="translate(128.46 36.20) scale(1.0948 1)" font-size="25.00">0</text>
<text transform="translate(75.52 137.80) scale(1.0263 1)" font-size="33.00">10</text>
<path d="M111.00 120.10H127.00" stroke="#000" stroke-width="1.35"/>
<text transform="translate(128.01 125.60) scale(1.1200 1)" font-size="25.00">1</text>
<text transform="translate(75.52 227.21) scale(1.0263 1)" font-size="33.00">10</text>
<path d="M111.00 209.51H127.00" stroke="#000" stroke-width="1.35"/>
<text transform="translate(128.66 215.01) scale(1.1200 1)" font-size="25.00">2</text>
<text transform="translate(75.52 316.61) scale(1.0263 1)" font-size="33.00">10</text>
<path d="M111.00 298.91H127.00" stroke="#000" stroke-width="1.35"/>
<text transform="translate(128.38 304.41) scale(1.1200 1)" font-size="25.00">3</text>
<text transform="translate(75.52 406.01) scale(1.0263 1)" font-size="33.00">10</text>
<path d="M111.00 388.31H127.00" stroke="#000" stroke-width="1.35"/>
<text transform="translate(128.45 393.81) scale(1.1200 1)" font-size="25.00">4</text>
<text transform="translate(129.02 502.50) scale(1.0263 1)" font-size="33.00">10</text>
<path d="M164.50 484.80H180.50" stroke="#000" stroke-width="1.35"/>
<text transform="translate(181.73 490.30) scale(1.1200 1)" font-size="25.00">5</text>
<text transform="translate(250.12 502.50) scale(1.0263 1)" font-size="33.00">10</text>
<path d="M285.60 484.80H301.60" stroke="#000" stroke-width="1.35"/>
<text transform="translate(303.05 490.30) scale(1.1200 1)" font-size="25.00">4</text>
<text transform="translate(371.22 502.50) scale(1.0263 1)" font-size="33.00">10</text>
<path d="M406.70 484.80H422.70" stroke="#000" stroke-width="1.35"/>
<text transform="translate(424.08 490.30) scale(1.1200 1)" font-size="25.00">3</text>
<text transform="translate(492.32 502.50) scale(1.0263 1)" font-size="33.00">10</text>
<path d="M527.80 484.80H543.80" stroke="#000" stroke-width="1.35"/>
<text transform="translate(545.46 490.30) scale(1.1200 1)" font-size="25.00">2</text>
<text transform="translate(613.42 502.50) scale(1.0263 1)" font-size="33.00">10</text>
<path d="M648.90 484.80H664.90" stroke="#000" stroke-width="1.35"/>
<text transform="translate(665.91 490.30) scale(1.1200 1)" font-size="25.00">1</text>
<text transform="translate(744.82 502.50) scale(1.0263 1)" font-size="33.00">10</text>
<text transform="translate(777.96 490.30) scale(1.0948 1)" font-size="25.00">0</text>
<g transform="translate(440.10 552.00)" fill="none" stroke="#000" stroke-linecap="round" stroke-linejoin="round"><path stroke-width="1.1" d="M0 -2.9C3 -5.5 7 -10.5 9.3 -14.3C11.5 -18 12.9 -21 11.9 -22.8C11.2 -23.9 9.5 -23.5 8.1 -21.9"/><path stroke-width="2.1" d="M7.6 -21.2C6.0 -19 4.9 -16 4.2 -13C3.3 -9.5 2.9 -6 3.3 -3.8C3.7 -1.6 4.9 -0.4 6.2 -0.2"/><path stroke-width="1.1" d="M3.6 -2.6C4.2 -0.8 5.2 0 6.6 0C8.2 0 10 -1.5 11.4 -3.7"/></g>
<path d="M455.9 559.6L467.5 527.3" stroke="#000" stroke-width="1.3" fill="none"/>
<text transform="translate(472.24 551.70) scale(1.1363 1)" font-size="32.80" font-style="italic">L</text>
<g transform="translate(35.0 326.7) rotate(-90)">
<text transform="translate(-1.77 0.00) scale(1.0274 1)" font-size="33.00" font-style="italic">V</text>
<path d="M34.35 -25.20C24.42 -15.03 24.42 -1.47 34.35 8.70L35.50 8.70C27.23 -1.47 27.23 -15.03 35.50 -25.20Z"/>
<g transform="translate(38.20 0.00)" fill="none" stroke="#000" stroke-linecap="round" stroke-linejoin="round"><path stroke-width="1.1" d="M0 -2.9C3 -5.5 7 -10.5 9.3 -14.3C11.5 -18 12.9 -21 11.9 -22.8C11.2 -23.9 9.5 -23.5 8.1 -21.9"/><path stroke-width="2.1" d="M7.6 -21.2C6.0 -19 4.9 -16 4.2 -13C3.3 -9.5 2.9 -6 3.3 -3.8C3.7 -1.6 4.9 -0.4 6.2 -0.2"/><path stroke-width="1.1" d="M3.6 -2.6C4.2 -0.8 5.2 0 6.6 0C8.2 0 10 -1.5 11.4 -3.7"/></g>
<path d="M52.15 -25.20C62.08 -15.03 62.08 -1.47 52.15 8.70L51.00 8.70C59.27 -1.47 59.27 -15.03 51.00 -25.20Z"/>
<path d="M65.9 8.3L78.7 -24.5" stroke="#000" stroke-width="1.3" fill="none"/>
<text transform="translate(79.73 0.00) scale(1.0274 1)" font-size="33.00" font-style="italic">V</text>
<path d="M117.75 -25.20C107.82 -15.03 107.82 -1.47 117.75 8.70L118.90 8.70C110.63 -1.47 110.63 -15.03 118.90 -25.20Z"/>
<text transform="translate(121.65 0.00) scale(1.1832 1)" font-size="32.80" font-style="italic">L</text>
<path d="M144.35 -25.20C154.28 -15.03 154.28 -1.47 144.35 8.70L143.20 8.70C151.47 -1.47 151.47 -15.03 143.20 -25.20Z"/>
</g>
<text transform="translate(476.27 308.70) scale(1.0850 1)" font-size="33.00">Equation</text>
<path d="M626.85 283.80C617.98 293.91 617.98 307.39 626.85 317.50L628.00 317.50C620.80 307.39 620.80 293.91 628.00 283.80Z"/>
<text transform="translate(629.61 308.70) scale(1.0142 1)" font-size="33.50">8</text>
<path d="M649.35 283.80C658.22 293.91 658.22 307.39 649.35 317.50L648.20 317.50C655.40 307.39 655.40 293.91 648.20 283.80Z"/>
<text transform="translate(476.27 342.20) scale(1.0850 1)" font-size="33.00">Equation</text>
<path d="M626.85 317.30C617.98 327.41 617.98 340.89 626.85 351.00L628.00 351.00C620.80 340.89 620.80 327.41 628.00 317.30Z"/>
<text transform="translate(629.81 342.20) scale(1.0072 1)" font-size="33.50">9</text>
<path d="M649.35 317.30C658.22 327.41 658.22 340.89 649.35 351.00L648.20 351.00C655.40 340.89 655.40 327.41 648.20 317.30Z"/>
<text transform="translate(375.85 409.40) scale(1.1094 1)" font-size="33.00">PG</text>
<text transform="translate(436.10 409.40) scale(1.0328 1)" font-size="33.00">books</text>
<g transform="translate(553.90 375.60)" fill="none" stroke="#000" stroke-linecap="round" stroke-linejoin="round"><path stroke-width="1.15" d="M18.0 -14.6L10.4 6.3"/><path stroke-width="1.15" d="M0.4 -8.6C1.6 -11.6 3.6 -13.6 6.0 -14.0"/><path stroke-width="2.3" d="M5.0 -13.5C6.4 -14.0 8.2 -13.4 9.4 -11.6C10.8 -9.4 11.8 -6.0 12.4 -2.2"/></g>
<path d="M583.90 373.60H605.60" stroke="#000" stroke-width="1.35" fill="none"/>
<path d="M583.90 366.50C585.42 360.90 590.41 359.10 594.75 363.50S604.08 366.10 605.60 360.50" stroke="#000" stroke-width="1.35" fill="none"/>
<text transform="translate(616.91 375.60) scale(1.0299 1)" font-size="33.00">1.8</text>
<g transform="translate(553.90 409.10)" fill="none" stroke="#000" stroke-linecap="round" stroke-linejoin="round"><path stroke-width="1.15" d="M18.0 -14.6L10.4 6.3"/><path stroke-width="1.15" d="M0.4 -8.6C1.6 -11.6 3.6 -13.6 6.0 -14.0"/><path stroke-width="2.3" d="M5.0 -13.5C6.4 -14.0 8.2 -13.4 9.4 -11.6C10.8 -9.4 11.8 -6.0 12.4 -2.2"/></g>
<path d="M583.90 407.10H605.60" stroke="#000" stroke-width="1.35" fill="none"/>
<path d="M583.90 400.00C585.42 394.40 590.41 392.60 594.75 397.00S604.08 399.60 605.60 394.00" stroke="#000" stroke-width="1.35" fill="none"/>
<text transform="translate(617.01 409.10) scale(1.0274 1)" font-size="33.00">2.0</text>
<g transform="translate(553.90 442.40)" fill="none" stroke="#000" stroke-linecap="round" stroke-linejoin="round"><path stroke-width="1.15" d="M18.0 -14.6L10.4 6.3"/><path stroke-width="1.15" d="M0.4 -8.6C1.6 -11.6 3.6 -13.6 6.0 -14.0"/><path stroke-width="2.3" d="M5.0 -13.5C6.4 -14.0 8.2 -13.4 9.4 -11.6C10.8 -9.4 11.8 -6.0 12.4 -2.2"/></g>
<path d="M583.90 440.40H605.60" stroke="#000" stroke-width="1.35" fill="none"/>
<path d="M583.90 433.30C585.42 427.70 590.41 425.90 594.75 430.30S604.08 432.90 605.60 427.30" stroke="#000" stroke-width="1.35" fill="none"/>
<text transform="translate(616.99 442.40) scale(1.0427 1)" font-size="33.00">2.2</text>
<path d="M548.6 356.6C541.5 358.5 539.0 363.5 539.0 371V386C539.0 394 537.5 398.5 532.7 401.2C537.5 403.9 539.0 408.4 539.0 416.4V431.5C539.0 439 541.5 444 548.6 446V445.2C543.8 442.6 542.2 438.5 542.2 431.5V416.4C542.2 408 540.0 403.8 535.0 401.2C540.0 398.6 542.2 394.4 542.2 386V371C542.2 364 543.8 360 548.6 357.4Z" fill="#000"/>
<path d="M678.9 300.4H728.9" stroke="#000" stroke-width="1.6"/>
<path d="M678.9 333.9H728.9" stroke="#000" stroke-width="1.6" stroke-dasharray="6 2.8"/>
<circle cx="704" cy="367.6" r="5.9" fill="#16ab39"/>
<circle cx="704" cy="401.1" r="5.9" fill="#e52d1a"/>
<circle cx="704" cy="434.4" r="5.9" fill="#1f9dd9"/>
</g>
</svg></body></html>
